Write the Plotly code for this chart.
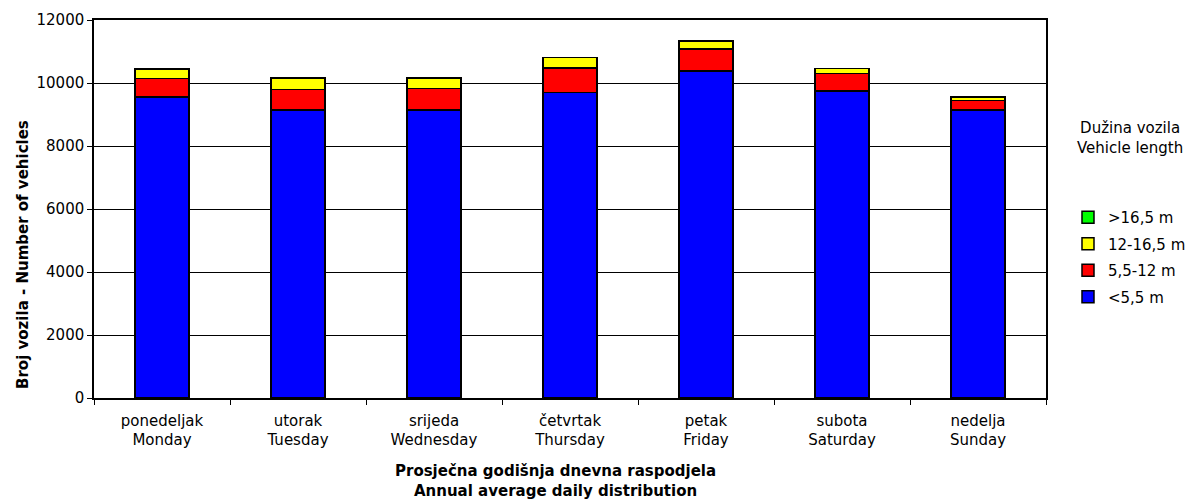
import plotly.graph_objects as go

days = ["ponedeljak<br>Monday", "utorak<br>Tuesday", "srijeda<br>Wednesday",
        "četvrtak<br>Thursday", "petak<br>Friday", "subota<br>Saturday", "nedelja<br>Sunday"]
under_5_5 = [9548, 9138, 9138, 9695, 10379, 9747, 9138]
from_5_5_to_12 = [588, 663, 694, 789, 707, 558, 304]
from_12_to_16_5 = [316, 347, 316, 327, 253, 158, 116]
over_16_5 = [5, 5, 5, 5, 5, 5, 5]

series = [
    ("<5,5 m", under_5_5, "#0000ff"),
    ("5,5-12 m", from_5_5_to_12, "#ff0000"),
    ("12-16,5 m", from_12_to_16_5, "#ffff00"),
    (">16,5 m", over_16_5, "#00ff00"),
]

FONT = "DejaVu Sans"

fig = go.Figure()
for i, (name, vals, col) in enumerate(series):
    fig.add_trace(go.Bar(x=days, y=vals, name=name, legendgroup=name,
                         legendrank=len(series) - i,
                         marker=dict(color=col, line=dict(color="black", width=1.5))))

fig.update_layout(
    barmode="stack",
    bargap=0.6,
    width=1189, height=492,
    margin=dict(l=86, r=151, t=12, b=102, autoexpand=False),
    plot_bgcolor="white", paper_bgcolor="white",
    font=dict(family=FONT, size=15, color="black"),
    legend=dict(traceorder="grouped", xref="container", yref="container",
                x=0.8915, xanchor="left", y=0.494, yanchor="middle",
                font=dict(size=15), itemwidth=30, tracegroupgap=4),
    annotations=[
        dict(text="Dužina vozila<br>Vehicle length", xref="paper", yref="paper",
             x=1.088, y=0.689, xanchor="center", yanchor="middle", showarrow=False,
             font=dict(size=15, family=FONT)),
        dict(text="<b>Prosječna godišnja dnevna raspodjela<br>Annual average daily distribution</b>",
             xref="paper", yref="paper", x=0.485, y=-0.22, xanchor="center", yanchor="middle",
             showarrow=False, font=dict(size=15, family=FONT)),
        dict(text="<b>Broj vozila - Number of vehicles</b>", xref="paper", yref="paper",
             x=-0.0746, y=0.381, xanchor="center", yanchor="middle", textangle=-90,
             showarrow=False, font=dict(size=15, family=FONT)),
    ],
)
fig.update_xaxes(
    showline=True, linecolor="black", linewidth=1.5, mirror=True, automargin=False,
    ticks="outside", tickson="boundaries", ticklen=5, tickcolor="black",
    tickfont=dict(size=15), ticklabelstandoff=8,
)
fig.update_yaxes(
    range=[0, 12000], dtick=2000, showgrid=True, gridcolor="black", gridwidth=1,
    showline=True, linecolor="black", linewidth=1.5, mirror=True, automargin=False,
    ticks="outside", ticklen=5, tickcolor="black", tickformat="d",
    tickfont=dict(size=15), zeroline=False,
)

fig.write_html("out.html")
